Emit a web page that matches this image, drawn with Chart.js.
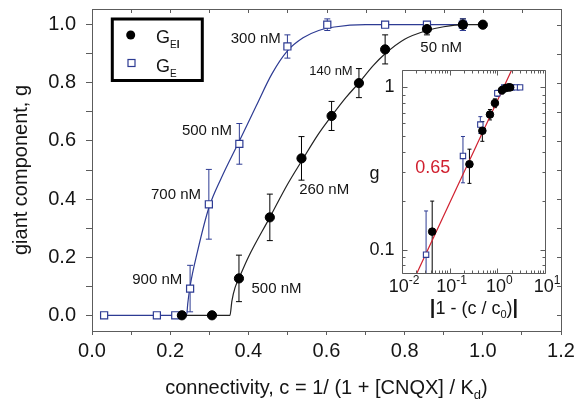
<!DOCTYPE html>
<html>
<head>
<meta charset="utf-8">
<script src="https://cdn.jsdelivr.net/npm/chart.js@4.4.0/dist/chart.umd.min.js"></script>
<style>
  html, body { margin: 0; padding: 0; background: #fff; }
  #wrap { position: relative; width: 578px; height: 405px; }
  #main { position: absolute; left: 0; top: 0; width: 578px; height: 405px; }
  #inset { position: absolute; left: 340px; top: 60px; width: 225px; height: 265px; }
</style>
</head>
<body>
<div id="wrap">
  <canvas id="main" width="578" height="405"></canvas>
  <canvas id="inset" width="225" height="265"></canvas>
</div>
<script>
// G_EI : filled circles
const geiC   = [0.230, 0.307, 0.376, 0.455, 0.536, 0.613, 0.683, 0.750, 0.857, 0.949, 1.000];
const geiG   = [0, 0, 0.127, 0.337, 0.540, 0.686, 0.799, 0.915, 0.985, 1.0, 1.0];
const geiErr = [0, 0, 0.08, 0.08, 0.075, 0.05, 0.05, 0.05, 0.02, 0.02, 0];

// G_E : open squares
const geC   = [0.031, 0.166, 0.213, 0.251, 0.299, 0.377, 0.500, 0.602, 0.750, 0.857, 0.949];
const geG   = [0, 0, 0, 0.092, 0.382, 0.590, 0.925, 1.0, 1.0, 1.0, 1.0];
const geErr = [0, 0, 0, 0.08, 0.12, 0.07, 0.04, 0.02, 0, 0, 0.02];

// fitted curves
const geiFitC = [0.230, 0.353, 0.358, 0.366, 0.376, 0.40, 0.455, 0.50, 0.536, 0.58, 0.613, 0.65, 0.683, 0.72, 0.75, 0.80, 0.857, 0.90, 0.95, 1.0];
const geiFitG = [0, 0, 0.05, 0.095, 0.127, 0.20, 0.337, 0.45, 0.53, 0.625, 0.686, 0.75, 0.80, 0.86, 0.90, 0.95, 0.98, 0.993, 1.0, 1.0];
const geFitC  = [0.031, 0.242, 0.245, 0.251, 0.27, 0.299, 0.33, 0.377, 0.42, 0.46, 0.50, 0.54, 0.58, 0.62, 0.70, 0.80, 0.949];
const geFitG  = [0, 0, 0.04, 0.10, 0.22, 0.37, 0.47, 0.60, 0.72, 0.83, 0.91, 0.955, 0.98, 0.992, 1.0, 1.0, 1.0];

// inset: g against |1 - c/c0| (log-log)
const inGeiX   = [0.043, 0.26, 0.485, 0.70, 0.89, 1.25, 1.5, 1.7, 1.85];
const inGeiY   = [0.129, 0.336, 0.54, 0.68, 0.80, 0.96, 0.99, 1.0, 1.0];
const inGeiErr = [0.07, 0.08, 0.075, 0.05, 0.05, 0.05, 0.02, 0.02, 0];
const inGeX    = [0.032, 0.19, 0.44, 1.0, 1.4, 2.0, 2.5, 3.0];
const inGeY    = [0.093, 0.378, 0.59, 0.92, 1.0, 1.0, 1.0, 1.0];
const inGeErr  = [0.08, 0.12, 0.07, 0.04, 0.02, 0, 0, 0.02];
const slopeX   = [0.0206, 2.0];
const slopeY   = [0.0717, 1.28];

// axis ticks
const xTickVals   = [0, 0.1, 0.2, 0.3, 0.4, 0.5, 0.6, 0.7, 0.8, 0.9, 1.0, 1.1, 1.2];
const xTickLabels = ['0.0', '', '0.2', '', '0.4', '', '0.6', '', '0.8', '', '1.0', '', '1.2'];
const yTickVals   = [0, 0.1, 0.2, 0.3, 0.4, 0.5, 0.6, 0.7, 0.8, 0.9, 1.0];
const yTickLabels = ['0.0', '', '0.2', '', '0.4', '', '0.6', '', '0.8', '', '1.0'];
const inXTickVals = [0.01, 0.1, 1, 10];
const inXTickExp  = ['-2', '-1', '0', '1'];
const inYTickVals = [0.1, 1];
const inYTickLabels = ['0.1', '1'];

const FAM = "'Liberation Sans', Arial, Helvetica, sans-serif";
const BLUE = '#2d3b93';
const DARK = '#151515';
const AXIS = '#5c5c5c';
const RED = '#d01f2e';

Chart.defaults.font.family = FAM;
Chart.defaults.color = DARK;

const pts = (xs, ys) => xs.map((v, i) => ({ x: v, y: ys[i] }));

// draw text made of pieces (sub/superscripts)
function drawParts(ctx, parts, x, y, align) {
  let w = 0;
  parts.forEach(p => {
    ctx.font = (p.bold ? 'bold ' : '') + p.size + 'px ' + FAM;
    p.w = ctx.measureText(p.t).width;
    w += p.w;
  });
  let cx = align === 'center' ? x - w / 2 : (align === 'right' ? x - w : x);
  ctx.textAlign = 'left';
  ctx.textBaseline = 'alphabetic';
  parts.forEach(p => {
    ctx.font = (p.bold ? 'bold ' : '') + p.size + 'px ' + FAM;
    ctx.fillText(p.t, cx, y + (p.dy || 0));
    cx += p.w;
  });
}

// vertical error bars from dataset.errors
const errorBars = {
  id: 'errorBars',
  beforeDatasetsDraw(chart) {
    const { ctx, chartArea, scales: { x, y } } = chart;
    ctx.save();
    ctx.beginPath();
    ctx.rect(chartArea.left, chartArea.top, chartArea.right - chartArea.left, chartArea.bottom - chartArea.top);
    ctx.clip();
    chart.data.datasets.forEach(ds => {
      if (!ds.errors) return;
      ctx.strokeStyle = ds.borderColor;
      ctx.lineWidth = 1;
      ds.data.forEach((p, k) => {
        const e = ds.errors[k];
        if (!e) return;
        const px = x.getPixelForValue(p.x);
        const lo = p.y - e > 0 ? p.y - e : (y.type === 'logarithmic' ? 1e-4 : p.y - e);
        const t = y.getPixelForValue(p.y + e), b = y.getPixelForValue(lo);
        ctx.beginPath();
        ctx.moveTo(px, t); ctx.lineTo(px, b);
        ctx.moveTo(px - ds.cap, t); ctx.lineTo(px + ds.cap, t);
        ctx.moveTo(px - ds.cap, b); ctx.lineTo(px + ds.cap, b);
        ctx.stroke();
      });
    });
    ctx.restore();
  }
};

const annotations = [
  { t: '300 nM', c: 0.483, g: 0.951, a: 'right', s: 15 },
  { t: '500 nM', c: 0.358, g: 0.636, a: 'right', s: 15 },
  { t: '700 nM', c: 0.279, g: 0.414, a: 'right', s: 15 },
  { t: '900 nM', c: 0.231, g: 0.121, a: 'right', s: 15 },
  { t: '500 nM', c: 0.408, g: 0.092, a: 'left', s: 15 },
  { t: '260 nM', c: 0.530, g: 0.433, a: 'left', s: 15 },
  { t: '140 nM', c: 0.667, g: 0.839, a: 'right', s: 13 },
  { t: '50 nM', c: 0.840, g: 0.920, a: 'left', s: 15 }
];

// frame, legend, labels and titles of the main plot
const mainDecor = {
  id: 'mainDecor',
  afterDraw(chart) {
    const { ctx, chartArea: ca, scales: { x, y } } = chart;
    ctx.save();
    // top and right border with inward ticks
    ctx.strokeStyle = AXIS;
    ctx.lineWidth = 1;
    ctx.beginPath();
    ctx.moveTo(ca.left, ca.top + 0.5); ctx.lineTo(ca.right + 0.5, ca.top + 0.5);
    ctx.lineTo(ca.right + 0.5, ca.bottom);
    xTickVals.forEach(v => {
      const px = Math.round(x.getPixelForValue(v)) + 0.5;
      ctx.moveTo(px, ca.top); ctx.lineTo(px, ca.top + 4);
    });
    yTickVals.forEach(v => {
      const py = Math.round(y.getPixelForValue(v)) + 0.5;
      ctx.moveTo(ca.right, py); ctx.lineTo(ca.right - 4, py);
    });
    ctx.stroke();

    // concentration labels
    ctx.fillStyle = DARK;
    ctx.textBaseline = 'middle';
    annotations.forEach(a => {
      ctx.font = a.s + 'px ' + FAM;
      ctx.textAlign = a.a;
      ctx.fillText(a.t, x.getPixelForValue(a.c), y.getPixelForValue(a.g));
    });

    // legend
    ctx.strokeStyle = '#000';
    ctx.lineWidth = 3;
    ctx.strokeRect(112.3, 19, 90, 61.5);
    ctx.fillStyle = '#000';
    ctx.beginPath();
    ctx.arc(130.7, 35, 4.5, 0, Math.PI * 2);
    ctx.fill();
    ctx.strokeStyle = BLUE;
    ctx.lineWidth = 1.2;
    ctx.fillStyle = '#fff';
    ctx.fillRect(128, 59.5, 7, 7);
    ctx.strokeRect(128, 59.5, 7, 7);
    ctx.fillStyle = DARK;
    drawParts(ctx, [{ t: 'G', size: 18 }, { t: 'E', size: 10, dy: 5.5 }, { t: 'I', size: 10, dy: 5.5, bold: true }], 156, 42.7, 'left');
    drawParts(ctx, [{ t: 'G', size: 18 }, { t: 'E', size: 10, dy: 5.5 }], 156, 71.7, 'left');

    // axis titles
    drawParts(ctx, [
      { t: 'connectivity, c = 1/ (1 + [CNQX] / K', size: 20 },
      { t: 'd', size: 13, dy: 5 },
      { t: ')', size: 20 }
    ], (ca.left + ca.right) / 2, 394, 'center');
    ctx.translate(21, (ca.top + ca.bottom) / 2);
    ctx.rotate(-Math.PI / 2);
    ctx.font = '20px ' + FAM;
    ctx.textAlign = 'center';
    ctx.textBaseline = 'middle';
    ctx.fillText('giant component, g', 0, 0);
    ctx.restore();
  }
};

new Chart(document.getElementById('main'), {
  type: 'scatter',
  data: {
    datasets: [
      {
        label: 'G_EI', data: pts(geiC, geiG), errors: geiErr, cap: 3, order: 0,
        pointStyle: 'circle', pointRadius: 4.6, backgroundColor: '#000', borderColor: '#000', borderWidth: 1
      },
      {
        label: 'G_E', data: pts(geC, geG), errors: geErr, cap: 3, order: 1,
        pointStyle: 'rect', pointRadius: 5, backgroundColor: '#fff', borderColor: BLUE, borderWidth: 1.2
      },
      {
        label: 'G_EI fit', data: pts(geiFitC, geiFitG), order: 2, showLine: true,
        pointRadius: 0, borderColor: '#222', borderWidth: 1.2, cubicInterpolationMode: 'monotone'
      },
      {
        label: 'G_E fit', data: pts(geFitC, geFitG), order: 3, showLine: true,
        pointRadius: 0, borderColor: BLUE, borderWidth: 1.2, cubicInterpolationMode: 'monotone'
      }
    ]
  },
  options: {
    responsive: false,
    animation: false,
    layout: { padding: { top: 9, right: 17, left: 0, bottom: 0 } },
    plugins: { legend: { display: false }, tooltip: { enabled: false } },
    scales: {
      x: {
        type: 'linear', min: 0, max: 1.2,
        afterBuildTicks: s => { s.ticks = xTickVals.map(v => ({ value: v })); },
        afterFit: s => { s.height = 74; s.paddingLeft = 0; s.paddingRight = 0; },
        border: { color: AXIS, width: 1 },
        grid: { drawOnChartArea: false, tickLength: 4, color: AXIS },
        ticks: {
          autoSkip: false, maxRotation: 0, padding: 4, color: DARK,
          font: { size: 20 }, callback: (v, i) => xTickLabels[i]
        }
      },
      y: {
        type: 'linear', min: -0.054, max: 1.054,
        afterBuildTicks: s => { s.ticks = yTickVals.map(v => ({ value: v })); },
        afterFit: s => { s.width = 92; s.paddingTop = 0; s.paddingBottom = 0; },
        border: { color: AXIS, width: 1 },
        grid: { drawOnChartArea: false, tickLength: 6, color: AXIS },
        ticks: {
          autoSkip: false, padding: 10, color: DARK,
          font: { size: 20 }, callback: (v, i) => yTickLabels[i]
        }
      }
    }
  },
  plugins: [errorBars, mainDecor]
});

// inset frame, ticks and labels
const insetDecor = {
  id: 'insetDecor',
  afterDraw(chart) {
    const { ctx, chartArea: ca, scales: { x, y } } = chart;
    const L = Math.round(ca.left) + 0.5, R = Math.round(ca.right) + 0.5;
    const T = Math.round(ca.top) + 0.5, B = Math.round(ca.bottom) + 0.5;
    ctx.save();
    ctx.strokeStyle = AXIS;
    ctx.lineWidth = 1;
    ctx.beginPath();
    ctx.rect(L, T, R - L, B - T);
    for (let d = -2; d <= 1; d++) {
      for (let k = 1; k <= 9; k++) {
        const v = k * Math.pow(10, d);
        if (v > 10.0001) break;
        const len = k === 1 ? 5 : 3;
        const px = Math.round(x.getPixelForValue(v)) + 0.5;
        ctx.moveTo(px, B); ctx.lineTo(px, B - len);
        ctx.moveTo(px, T); ctx.lineTo(px, T + len);
      }
    }
    for (let d = -2; d <= 0; d++) {
      for (let k = 1; k <= 9; k++) {
        const v = k * Math.pow(10, d);
        if (v < y.min || v > y.max) continue;
        const len = k === 1 ? 5 : 3;
        const py = Math.round(y.getPixelForValue(v)) + 0.5;
        ctx.moveTo(L, py); ctx.lineTo(L + len, py);
        ctx.moveTo(R, py); ctx.lineTo(R - len, py);
      }
    }
    ctx.stroke();

    ctx.fillStyle = DARK;
    inXTickVals.forEach((v, i) => {
      drawParts(ctx, [{ t: '10', size: 18 }, { t: inXTickExp[i], size: 12, dy: -8 }], x.getPixelForValue(v) + 2, B + 18, 'center');
    });
    ctx.font = '18px ' + FAM;
    ctx.textAlign = 'right';
    ctx.textBaseline = 'middle';
    inYTickVals.forEach((v, i) => {
      ctx.fillText(inYTickLabels[i], L - 8, y.getPixelForValue(v));
    });
    ctx.textAlign = 'center';
    ctx.fillText('g', L - 28, y.getPixelForValue(0.3) + 2);
    drawParts(ctx, [
      { t: '|', size: 20, bold: true }, { t: '1 - (c / c', size: 18 },
      { t: '0', size: 11, dy: 4 }, { t: ')', size: 18 }, { t: '|', size: 20, bold: true }
    ], (L + R) / 2, B + 40, 'center');
    ctx.fillStyle = RED;
    ctx.font = '18px ' + FAM;
    ctx.textAlign = 'left';
    ctx.fillText('0.65', x.getPixelForValue(0.019), y.getPixelForValue(0.296));
    ctx.restore();
  }
};

new Chart(document.getElementById('inset'), {
  type: 'scatter',
  data: {
    datasets: [
      {
        label: 'G_EI', data: pts(inGeiX, inGeiY), errors: inGeiErr, cap: 2, order: 0,
        pointStyle: 'circle', pointRadius: 3.8, backgroundColor: '#000', borderColor: '#000', borderWidth: 1
      },
      {
        label: 'G_E', data: pts(inGeX, inGeY), errors: inGeErr, cap: 2, order: 1,
        pointStyle: 'rect', pointRadius: 3.8, backgroundColor: '#fff', borderColor: BLUE, borderWidth: 1.1
      },
      {
        label: 'slope', data: pts(slopeX, slopeY), order: 2, showLine: true,
        pointRadius: 0, borderColor: RED, borderWidth: 1.2
      }
    ]
  },
  options: {
    responsive: false,
    animation: false,
    layout: { padding: { left: 62, right: 20, top: 10, bottom: 52 } },
    plugins: { legend: { display: false }, tooltip: { enabled: false } },
    scales: {
      x: { type: 'logarithmic', min: 0.01, max: 10, display: false },
      y: { type: 'logarithmic', min: 0.0717, max: 1.28, display: false }
    }
  },
  plugins: [errorBars, insetDecor]
});
</script>
</body>
</html>
